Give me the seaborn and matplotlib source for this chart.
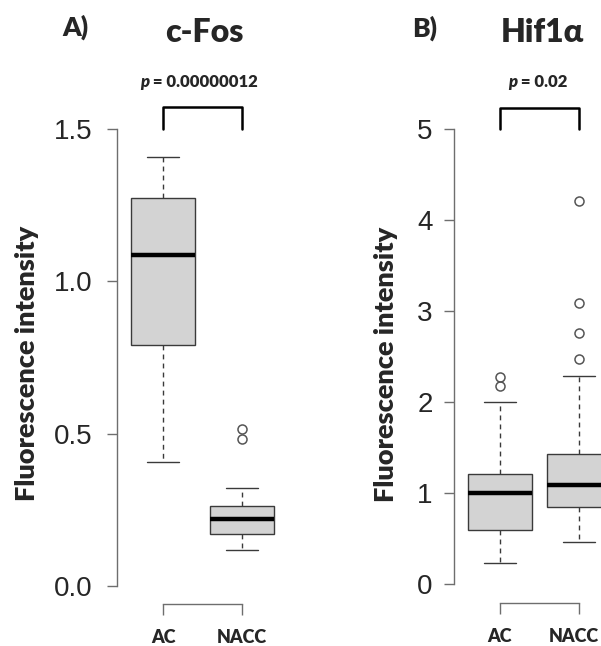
import pandas as pd
import seaborn as sns
import matplotlib.pyplot as plt
from matplotlib.transforms import ScaledTranslation

# group names on the x axis
groups = ['AC', 'NACC']

# samples chosen so each box reproduces the whiskers, quartiles, median and outliers of the figure
cfos_ac = [0.408, 0.60, 0.791, 0.95, 1.086, 1.18, 1.272, 1.33, 1.407]
cfos_nacc = [0.118, 0.14, 0.155, 0.170, 0.18, 0.20, 0.219, 0.23, 0.245, 0.263, 0.323, 0.481, 0.515]
hif_ac = [0.234, 0.40, 0.50, 0.59, 0.75, 0.90, 1.004, 1.08, 1.15, 1.213, 2.005, 2.18, 2.28]
hif_nacc = [0.462, 0.55, 0.63, 0.70, 0.78, 0.847, 0.90, 0.95, 1.00, 1.05, 1.086, 1.12, 1.18,
            1.25, 1.34, 1.43, 2.288, 2.47, 2.765, 3.088, 4.21]

titles = ['c-Fos', 'Hif1α']
tags = ['A)', 'B)']
p_values = ['0.00000012', '0.02']
yticks_a = [0.0, 0.5, 1.0, 1.5]
yticks_b = [0, 1, 2, 3, 4, 5]
ytick_labels_a = ['0.0', '0.5', '1.0', '1.5']
ytick_labels_b = ['0', '1', '2', '3', '4', '5']

sns.set_style('ticks')
plt.rcParams['font.family'] = ['Liberation Sans', 'DejaVu Sans']
bold_font = ['Lato', 'Noto Sans', 'DejaVu Sans']
heavy = 'heavy'

W, H = 601, 646
fig = plt.figure(figsize=(W / 100, H / 100), dpi=100)
ax_a = fig.add_axes([0.1947, 0.0655, 0.2737, 0.7585])
ax_b = fig.add_axes([0.7559, 0.067, 0.2742, 0.7607])

spine_col = '#6e6e6e'


def draw_panel(ax, ac, nacc, ylim, xlim, yticks, ylabels, ypad, label_xy):
    df = pd.DataFrame({'group': ['AC'] * len(ac) + ['NACC'] * len(nacc),
                       'value': ac + nacc})
    sns.boxplot(data=df, x='group', y='value', order=groups, ax=ax,
                color='#d3d3d3', saturation=1, width=0.8, whis=1.5,
                linecolor='#3a3a3a', linewidth=1,
                medianprops=dict(color='black', linewidth=3.2),
                whiskerprops=dict(linestyle=(0, (3.5, 3))),
                flierprops=dict(marker='o', markerfacecolor='none',
                                markeredgecolor='#555555', markersize=6.5,
                                markeredgewidth=1.1))
    ax.set_ylim(*ylim)
    ax.set_xlim(*xlim)
    sns.despine(ax=ax)
    for side in ['left', 'bottom']:
        ax.spines[side].set_color(spine_col)
        ax.spines[side].set_linewidth(1)
    ax.spines['left'].set_bounds(yticks[0], yticks[-1])
    ax.spines['bottom'].set_bounds(0, 1)

    ax.set_yticks(yticks)
    ax.set_yticklabels(ylabels)
    ax.tick_params(axis='y', length=7.5, width=1, color=spine_col,
                   labelsize=20, labelcolor='#262626', pad=ypad)
    ax.set_xticks([0, 1])
    ax.set_xticklabels(groups, fontfamily=bold_font, fontweight=heavy, fontsize=13)
    ax.tick_params(axis='x', length=8, width=1, color=spine_col, pad=10)

    ax.set_xlabel('')
    ax.set_ylabel('Fluorescence intensity', fontfamily=bold_font,
                  fontweight=heavy, fontsize=19.5)
    ax.yaxis.set_label_coords(*label_xy)
    ax.yaxis.label.set_verticalalignment('center')

    # significance bracket over the two boxes
    top = yticks[-1]
    lift = (ylim[1] - ylim[0]) * 0.044
    ax.plot([0, 0, 1, 1], [top, top + lift, top + lift, top], color='black',
            linewidth=1.8, clip_on=False, solid_joinstyle='round')


draw_panel(ax_a, cfos_ac, cfos_nacc, (-0.058, 1.55), (-0.582, 1.5),
           yticks_a, ytick_labels_a, 10, (-0.547, 0.491))
draw_panel(ax_b, hif_ac, hif_nacc, (-0.2057, 5.2), (-0.570, 1.5),
           yticks_b, ytick_labels_b, 8, (-0.414, 0.486))

# the right label of panel B sits a little left of its tick, as in the original
lab = ax_b.get_xticklabels()[1]
lab.set_transform(lab.get_transform() + ScaledTranslation(-5 / 100, 0, fig.dpi_scale_trans))


def px(x, y):
    return x / W, 1 - y / H


# panel tags and titles
fig.text(*px(75, 27), tags[0], fontfamily=bold_font, fontweight=heavy,
         fontsize=19, ha='center', va='center')
fig.text(*px(204, 33), titles[0], fontfamily=bold_font, fontweight=heavy,
         fontsize=23, ha='center', va='center')
fig.text(*px(425, 28), tags[1], fontfamily=bold_font, fontweight=heavy,
         fontsize=19, ha='center', va='center')
fig.text(*px(542, 33), titles[1], fontfamily=bold_font, fontweight=heavy,
         fontsize=23, ha='center', va='center')

# p values, italic p followed by the number
for xs, pv in [(149, p_values[0]), (517, p_values[1])]:
    fig.text(*px(xs, 82), 'p', fontfamily=bold_font, fontweight=heavy,
             style='italic', fontsize=12, ha='right', va='center')
    fig.text(*px(xs, 82), ' = ' + pv, fontfamily=bold_font, fontweight=heavy,
             fontsize=12, ha='left', va='center')

plt.savefig('out.png', dpi=100)
